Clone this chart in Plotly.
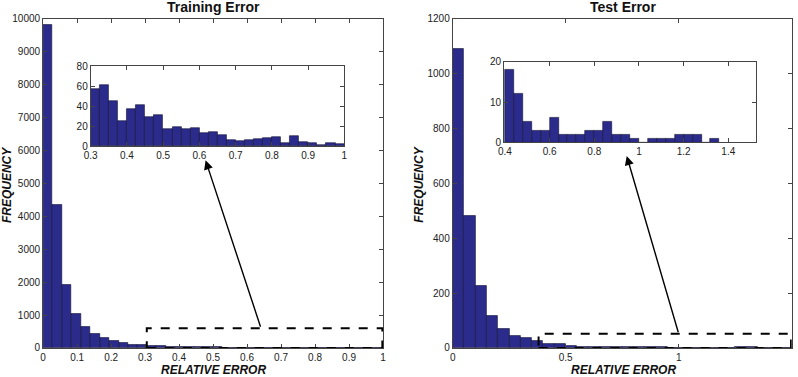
import plotly.graph_objects as go

# ── data ──
TRAIN_BIN_W = 1 / 36
TRAIN_COUNTS = [9830, 4360, 1930, 1050, 650, 430, 310, 230, 160, 110, 80, 62,
                55, 45, 42, 40, 30, 25, 20, 18, 15, 15, 12, 10, 8, 8, 8, 9,
                7, 6, 8, 5, 4, 3, 3, 3]

TRAIN_ZOOM_START = 0.3
TRAIN_ZOOM_W = 0.025
TRAIN_ZOOM_COUNTS = [57, 61, 45, 25, 37, 41, 29, 31, 17, 19, 17, 18, 13, 14,
                     11, 6, 5, 6, 7, 8, 9, 3, 10, 4, 3, 1, 3, 2]

TEST_BIN_W = 0.05
TEST_COUNTS = [1090, 480, 228, 118, 69, 45, 38, 27, 16, 15, 6, 3, 4, 4, 3,
               3, 4, 5, 3, 2, 1, 1, 2, 2, 2, 3, 4, 1, 0, 0]

TEST_ZOOM_START = 0.4
TEST_ZOOM_W = 0.04
TEST_ZOOM_COUNTS = [18, 12, 5, 3, 3, 6, 2, 2, 2, 3, 3, 5, 2, 2, 1, 0, 1, 1,
                    1, 2, 2, 2, 0, 1]

TRAIN_TICKS = [round(i * 0.1, 1) for i in range(11)]
TRAIN_ZOOM_TICKS = [0.3, 0.4, 0.5, 0.6, 0.7, 0.8, 0.9, 1]
TEST_TICKS = [0, 0.5, 1, 1.5]
TEST_ZOOM_TICKS = [0.4, 0.6, 0.8, 1, 1.2, 1.4]

BAR = "#2b2b8c"
FONT = "Liberation Sans, Arial, sans-serif"


def centers(start, w, n):
    return [start + w * (i + 0.5) for i in range(n)]


def bars(start, w, counts, xa, ya):
    return go.Bar(x=centers(start, w, len(counts)), y=counts, width=w,
                  marker=dict(color=BAR, line=dict(color="#101030", width=0.6)),
                  xaxis=xa, yaxis=ya, showlegend=False, hoverinfo="x+y")


fig = go.Figure()
fig.add_trace(bars(0, TRAIN_BIN_W, TRAIN_COUNTS, "x", "y"))
fig.add_trace(bars(TRAIN_ZOOM_START, TRAIN_ZOOM_W, TRAIN_ZOOM_COUNTS, "x2", "y2"))
fig.add_trace(bars(0, TEST_BIN_W, TEST_COUNTS, "x3", "y3"))
fig.add_trace(bars(TEST_ZOOM_START, TEST_ZOOM_W, TEST_ZOOM_COUNTS, "x4", "y4"))

ax = dict(showline=True, linecolor="#444", linewidth=1, mirror="allticks",
          ticks="inside", ticklen=4, tickcolor="#444", showgrid=False,
          zeroline=False, automargin=False, tickformat="~g",
          tickfont=dict(size=10, color="#222", family=FONT))
yax = dict(ax, tickformat="d")

fig.update_layout(
    width=798, height=377,
    margin=dict(l=0, r=0, t=0, b=0),
    paper_bgcolor="white", plot_bgcolor="white",
    bargap=0, font=dict(family=FONT, color="#222"),
    xaxis=dict(ax, domain=[0.054, 0.480], range=[0, 1], tickvals=TRAIN_TICKS,
               anchor="y"),
    yaxis=dict(yax, domain=[0.077, 0.950], range=[0, 10000], dtick=1000,
               anchor="x"),
    xaxis2=dict(ax, domain=[0.1137, 0.4315], range=[0.3, 1],
                tickvals=TRAIN_ZOOM_TICKS, anchor="y2"),
    yaxis2=dict(yax, domain=[0.6127, 0.8249], range=[0, 80], dtick=20,
                anchor="x2"),
    xaxis3=dict(ax, domain=[0.5673, 0.9921], range=[0, 1.5], tickvals=TEST_TICKS,
                anchor="y3"),
    yaxis3=dict(yax, domain=[0.077, 0.950], range=[0, 1200], dtick=200,
                anchor="x3"),
    xaxis4=dict(ax, domain=[0.6316, 0.9474], range=[0.396, 1.524],
                tickvals=TEST_ZOOM_TICKS, anchor="y4"),
    yaxis4=dict(yax, domain=[0.6225, 0.8363], range=[0, 20], dtick=10,
                anchor="x4"),
)

# zoom boxes
fig.add_shape(type="rect", xref="x", yref="y", x0=0.305, x1=0.998, y0=0, y1=600,
              line=dict(color="black", width=2, dash="dash"))
fig.add_shape(type="rect", xref="x3", yref="y3", x0=0.38, x1=1.497, y0=0, y1=52,
              line=dict(color="black", width=2, dash="dash"))

# arrows from zoom boxes to insets
arrow = dict(showarrow=True, arrowhead=2, arrowsize=1.3, arrowwidth=1.4,
             arrowcolor="black", text="")
fig.add_annotation(arrow, xref="x", yref="y", axref="x", ayref="y",
                   x=0.478, y=5700, ax=0.641, ay=600)
fig.add_annotation(arrow, xref="x3", yref="y3", axref="x3", ayref="y3",
                   x=0.770, y=700, ax=1.0, ay=52)

# titles (explicit center anchoring; "auto" would left/right-anchor them)
title_font = dict(family=FONT, size=14, color="#111")
lab_font = dict(family=FONT, size=12, color="#111")
for xc, txt in [(0.268, "<b>Training Error</b>"), (0.781, "<b>Test Error</b>")]:
    fig.add_annotation(xref="paper", yref="paper", x=xc, y=1.008, yanchor="top",
                       xanchor="center", text=txt, showarrow=False,
                       font=title_font)
for xc in [0.268, 0.781]:
    fig.add_annotation(xref="paper", yref="paper", x=xc, y=-0.004,
                       yanchor="bottom", xanchor="center",
                       text="<b><i>RELATIVE ERROR</i></b>", showarrow=False,
                       font=lab_font)
for xc in [0.008, 0.525]:
    fig.add_annotation(xref="paper", yref="paper", x=xc, y=0.51, textangle=-90,
                       xanchor="center", yanchor="middle",
                       text="<b><i>FREQUENCY</i></b>", showarrow=False,
                       font=lab_font)

# the page's default body margin would shift the figure by 8px
fig.write_html("out.html", config={"displayModeBar": False},
               post_script="document.body.style.margin='0';")
